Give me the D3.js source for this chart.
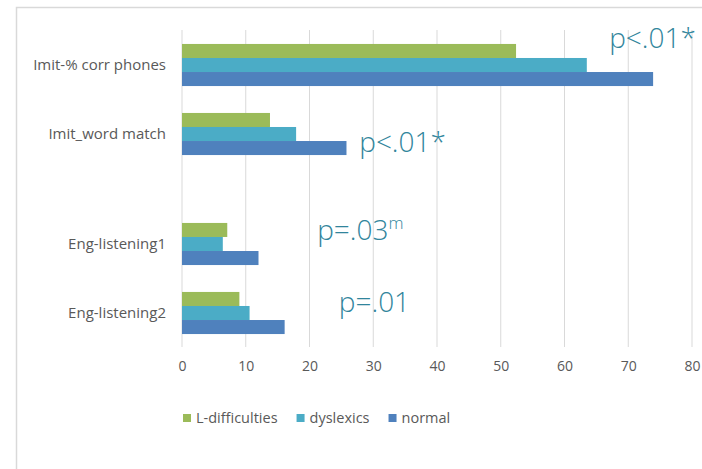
<!DOCTYPE html>
<html>
<head>
<meta charset="utf-8">
<script src="https://cdn.jsdelivr.net/npm/d3@7"></script>
<style>
  body { margin: 0; background: #fff; }
  svg { display: block; }
  .tick text, .cat-label, .legend-label { fill: #595959; font-family: "Open Sans", sans-serif; }
  .note { fill: #31859c; font-family: "Open Sans", sans-serif; font-weight: 300; }
</style>
</head>
<body>
<svg id="chart" width="702" height="469"></svg>
<script>
// data
const sections = ['imit', 'eng'];
const categories = [
  { name: 'Imit-% corr phones', section: 'imit' },
  { name: 'Imit_word match', section: 'imit' },
  { name: 'Eng-listening1', section: 'eng' },
  { name: 'Eng-listening2', section: 'eng' }
];
const seriesNames = ['L-difficulties', 'dyslexics', 'normal'];
const seriesColors = ['#9bbb59', '#4bacc6', '#4f81bd'];
const lDifficulties = [52.4, 13.8, 7.1, 9.0];
const dyslexics = [63.5, 17.9, 6.4, 10.6];
const normal = [73.9, 25.8, 12.0, 16.1];
const xTicks = [0, 10, 20, 30, 40, 50, 60, 70, 80];
const noteTexts = ['p<.01*', 'p<.01*', 'p=.03', 'p=.01'];
const noteSups = ['', '', 'm', ''];

// where each note sits: x in data units, y as a fraction of its category band
const noteAnchors = [[67.0, 0.1], [27.8, 0.93], [21.2, 0.4], [24.6, 0.48]];

const seriesValues = [lDifficulties, dyslexics, normal];

const svg = d3.select('#chart');
const width = 702, height = 469;

// outer frame
svg.append('path')
  .attr('d', `M16.5,${height} V7.5 H${width}`)
  .attr('fill', 'none')
  .attr('stroke', '#d9d9d9')
  .attr('stroke-width', 1.5);

const x = d3.scaleLinear()
  .domain([0, 80])
  .range([182, 692]);

// two blocks of categories with a gap between them
const ySection = d3.scaleBand()
  .domain(sections)
  .range([30.5, 347.5])
  .paddingInner(0.229)
  .paddingOuter(0);

const yCat = {};
sections.forEach(s => {
  const y0 = ySection(s);
  yCat[s] = d3.scaleBand()
    .domain(categories.filter(c => c.section === s).map(c => c.name))
    .range([y0, y0 + ySection.bandwidth()])
    .paddingInner(0.39)
    .paddingOuter(0.195);
});
const catY = c => yCat[c.section](c.name);
const catBand = c => yCat[c.section].bandwidth();

const ySeries = d3.scaleBand()
  .domain(seriesNames)
  .range([0, yCat.imit.bandwidth()]);

// gridlines
svg.append('g')
  .selectAll('line')
  .data(xTicks)
  .join('line')
  .attr('x1', d => x(d))
  .attr('x2', d => x(d))
  .attr('y1', 30)
  .attr('y2', 347)
  .attr('stroke', '#d9d9d9')
  .attr('stroke-width', 1);

// tick labels
const xAxis = svg.append('g')
  .attr('transform', 'translate(0,347)')
  .call(d3.axisBottom(x).tickValues(xTicks).tickSize(0).tickPadding(14));
xAxis.select('.domain').remove();
xAxis.selectAll('text').attr('font-size', 14).attr('font-family', null);

// bars
const groups = svg.append('g')
  .selectAll('g')
  .data(categories)
  .join('g')
  .attr('transform', c => `translate(0,${catY(c)})`);

groups.selectAll('rect')
  .data((c, ci) => seriesNames.map((s, si) => ({ s, si, v: seriesValues[si][ci] })))
  .join('rect')
  .attr('x', x(0))
  .attr('y', d => ySeries(d.s))
  .attr('width', d => x(d.v) - x(0))
  .attr('height', ySeries.bandwidth())
  .attr('fill', d => seriesColors[d.si]);

// category labels
svg.append('g')
  .selectAll('text')
  .data(categories)
  .join('text')
  .attr('class', 'cat-label')
  .attr('x', 166)
  .attr('y', c => catY(c) + catBand(c) / 2)
  .attr('dy', '0.35em')
  .attr('text-anchor', 'end')
  .attr('font-size', 15)
  .text(c => c.name);

// p-value notes
const noteSel = svg.append('g')
  .selectAll('text')
  .data(noteTexts.map((t, i) => ({ t, sup: noteSups[i], cat: categories[i], a: noteAnchors[i] })))
  .join('text')
  .attr('class', 'note')
  .attr('x', d => x(d.a[0]))
  .attr('y', d => catY(d.cat) + catBand(d.cat) * d.a[1])
  .attr('font-size', 28)
  .text(d => d.t);
noteSel.filter(d => d.sup)
  .append('tspan')
  .attr('dy', -11)
  .attr('font-size', 17)
  .text(d => d.sup);

// legend
const legend = svg.append('g')
  .attr('transform', 'translate(183,418)');
let lx = 0;
seriesNames.forEach((s, i) => {
  const item = legend.append('g').attr('transform', `translate(${lx},0)`);
  item.append('rect')
    .attr('x', 0).attr('y', -4)
    .attr('width', 8).attr('height', 8)
    .attr('fill', seriesColors[i]);
  const t = item.append('text')
    .attr('class', 'legend-label')
    .attr('x', 13)
    .attr('dy', '0.35em')
    .attr('font-size', 14.5)
    .text(s);
  lx += 13 + t.node().getComputedTextLength() + 19;
});
</script>
</body>
</html>
